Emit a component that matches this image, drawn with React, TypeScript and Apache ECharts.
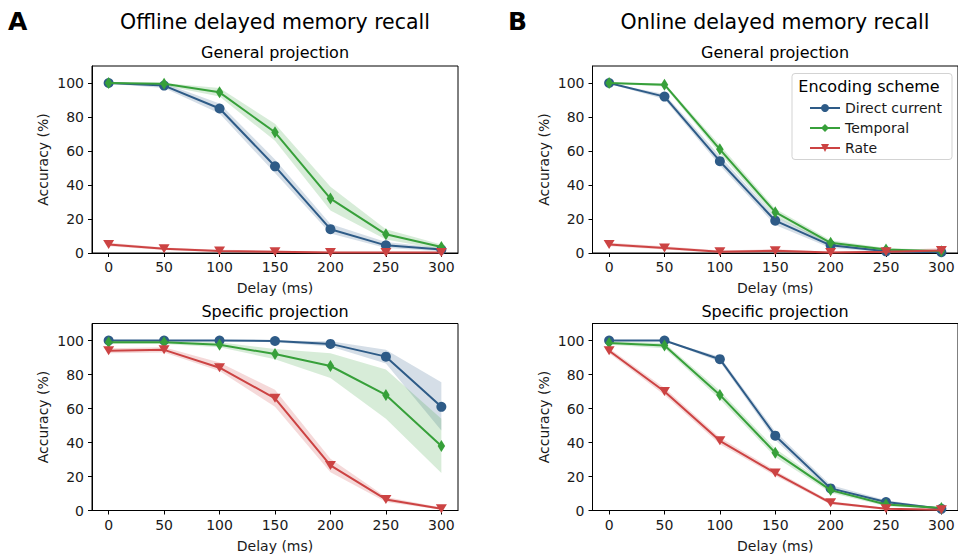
import React, { useEffect, useRef } from "react";
import * as echarts from "echarts";

const delays = [0, 50, 100, 150, 200, 250, 300];
const xTicks = [0, 50, 100, 150, 200, 250, 300];
const yTicks = [0, 20, 40, 60, 80, 100];
const schemes = ["Direct current", "Temporal", "Rate"];
const colors = ["#2e5b87", "#37a03a", "#cc4343"];

// Offline, general projection
const offGenDcMean = [100, 98.5, 85, 51, 14, 4.5, 2];
const offGenDcLo = [99.5, 97, 82, 47, 11.5, 3, 1];
const offGenDcHi = [100, 99.8, 88, 55, 17, 6.5, 3];
const offGenTMean = [100, 99.5, 94.5, 71, 32, 11, 3.5];
const offGenTLo = [99.5, 98.5, 92, 66, 25, 8, 2];
const offGenTHi = [100, 100, 97, 76, 39, 14, 5];
const offGenRMean = [5, 2.5, 1.2, 0.8, 0.3, 0.3, 0.3];
const offGenRLo = [4, 1.8, 0.6, 0.2, 0, 0, 0];
const offGenRHi = [6, 3.3, 1.9, 1.5, 0.7, 0.8, 0.7];

// Online, general projection
const onGenDcMean = [100, 92, 54, 19, 4.5, 1, 0.5];
const onGenDcLo = [99.5, 90.5, 51.5, 16.5, 3, 0.5, 0];
const onGenDcHi = [100, 93.5, 57, 21.5, 6, 1.8, 1.2];
const onGenTMean = [100, 99, 61, 24, 6, 2, 1];
const onGenTLo = [99.5, 98, 58.5, 21.5, 4.5, 1, 0.3];
const onGenTHi = [100, 99.8, 63.5, 26, 7.5, 3, 1.8];
const onGenRMean = [5, 3, 0.8, 1.3, 0.3, 0.8, 1.5];
const onGenRLo = [4, 2, 0.2, 0.5, 0, 0.2, 0.3];
const onGenRHi = [6, 4, 1.5, 2.2, 0.8, 1.5, 3];

// Offline, specific projection
const offSpecDcMean = [100, 100, 100, 99.7, 98, 90.5, 61];
const offSpecDcLo = [99.7, 99.7, 99.7, 99, 96.5, 86.5, 47];
const offSpecDcHi = [100, 100, 100, 100, 99.5, 94.5, 75.5];
const offSpecTMean = [99, 99, 97.5, 92, 85, 68, 38];
const offSpecTLo = [98, 98, 96, 89, 78, 54, 22];
const offSpecTHi = [99.8, 99.8, 99, 95, 92.5, 83, 54];
const offSpecRMean = [94, 94.5, 84, 66, 26.5, 6.5, 1];
const offSpecRLo = [92.5, 93, 82, 61, 22.5, 5, 0.5];
const offSpecRHi = [95.5, 96, 87, 71, 30.5, 8, 1.8];

// Online, specific projection
const onSpecDcMean = [100, 100, 89, 44, 13, 5, 1];
const onSpecDcLo = [99.7, 99.7, 87.5, 41.5, 11, 4, 0.5];
const onSpecDcHi = [100, 100, 90.5, 46.5, 15, 6, 1.5];
const onSpecTMean = [98.5, 97, 68, 34, 12, 3.5, 1.5];
const onSpecTLo = [97.5, 95.5, 65.5, 31.5, 10.5, 2.5, 1];
const onSpecTHi = [99.5, 98.5, 70.5, 36.5, 13.5, 4.5, 2];
const onSpecRMean = [94, 70, 41, 22, 4.5, 1, 0.5];
const onSpecRLo = [92.5, 68, 39, 20.5, 3.5, 0.5, 0.2];
const onSpecRHi = [95.5, 72, 43, 23.5, 5.5, 1.5, 0.8];

const panelData = [
  [
    [offGenDcMean, offGenDcLo, offGenDcHi],
    [offGenTMean, offGenTLo, offGenTHi],
    [offGenRMean, offGenRLo, offGenRHi],
  ],
  [
    [onGenDcMean, onGenDcLo, onGenDcHi],
    [onGenTMean, onGenTLo, onGenTHi],
    [onGenRMean, onGenRLo, onGenRHi],
  ],
  [
    [offSpecDcMean, offSpecDcLo, offSpecDcHi],
    [offSpecTMean, offSpecTLo, offSpecTHi],
    [offSpecRMean, offSpecRLo, offSpecRHi],
  ],
  [
    [onSpecDcMean, onSpecDcLo, onSpecDcHi],
    [onSpecTMean, onSpecTLo, onSpecTHi],
    [onSpecRMean, onSpecRLo, onSpecRHi],
  ],
];

const FONT = "DejaVu Sans";
const TXT = "#1a1a1a";

const grids = [
  { left: 92, top: 66, width: 366, height: 187 },
  { left: 592.5, top: 66, width: 366, height: 187 },
  { left: 92, top: 323.5, width: 366, height: 187 },
  { left: 592.5, top: 323.5, width: 366, height: 187 },
];

const symbols = [
  { symbol: "circle", symbolSize: 10 },
  { symbol: "diamond", symbolSize: [7.5, 12] },
  { symbol: "path://M0,0L10,0L5,8Z", symbolSize: [11, 9] },
];

function bandSeries(g: number, lo: number[], hi: number[], color: string) {
  return {
    type: "custom",
    xAxisIndex: g,
    yAxisIndex: g,
    silent: true,
    z: 1,
    data: delays.map((d, i) => [d, lo[i], hi[i]]),
    encode: { x: 0, y: [1, 2] },
    renderItem: (params: any, api: any) => {
      if (params.dataIndex !== 0) return null;
      const upper = delays.map((d, i) => api.coord([d, hi[i]]));
      const lower = delays.map((d, i) => api.coord([d, lo[i]])).reverse();
      return {
        type: "polygon",
        shape: { points: upper.concat(lower) },
        style: { fill: color, opacity: 0.2, stroke: "none" },
      };
    },
  };
}

export default function App() {
  const ref = useRef<HTMLDivElement>(null);
  useEffect(() => {
    if (!ref.current) return;
    const chart = echarts.init(ref.current, null, { renderer: "svg" });
    const series: any[] = [];
    panelData.forEach((panel, g) => {
      panel.forEach((s, k) => {
        series.push(bandSeries(g, s[1], s[2], colors[k]));
      });
      panel.forEach((s, k) => {
        series.push({
          type: "line",
          name: schemes[k],
          xAxisIndex: g,
          yAxisIndex: g,
          z: 3 + k,
          data: delays.map((d, i) => [d, s[0][i]]),
          symbol: symbols[k].symbol,
          symbolSize: symbols[k].symbolSize,
          showSymbol: true,
          lineStyle: { color: colors[k], width: 2 },
          itemStyle: { color: colors[k], borderWidth: 0 },
          emphasis: { disabled: true },
        });
      });
    });

    const xAxes = grids.map((_, g) => ({
      type: "value",
      gridIndex: g,
      min: -15,
      max: 315,
      name: "Delay (ms)",
      nameLocation: "middle",
      nameGap: 28,
      nameTextStyle: { fontFamily: FONT, fontSize: 14, color: TXT },
      axisLine: { show: true, onZero: false, lineStyle: { color: "#000", width: 1 } },
      axisTick: { show: true, length: 4, customValues: xTicks, lineStyle: { color: "#000" } },
      axisLabel: { customValues: xTicks, margin: 7, fontFamily: FONT, fontSize: 14, color: TXT },
      splitLine: { show: false },
    }));
    const yAxes = grids.map((_, g) => ({
      type: "value",
      gridIndex: g,
      min: 0,
      max: 110,
      name: "Accuracy (%)",
      nameLocation: "middle",
      nameGap: 42,
      nameTextStyle: { fontFamily: FONT, fontSize: 14, color: TXT },
      axisLine: { show: true, onZero: false, lineStyle: { color: "#000", width: 1 } },
      axisTick: { show: true, length: 4, customValues: yTicks, lineStyle: { color: "#000" } },
      axisLabel: { customValues: yTicks, margin: 8, fontFamily: FONT, fontSize: 14, color: TXT },
      splitLine: { show: false },
    }));

    const txt = (x: number, y: number, text: string, size: number, weight = "normal", align = "center") => ({
      type: "text",
      x,
      y,
      style: {
        text,
        fontFamily: FONT,
        fontSize: size,
        fontWeight: weight,
        fill: "#000",
        align,
        verticalAlign: "middle",
      },
    });

    chart.setOption({
      animation: false,
      backgroundColor: "#fff",
      grid: grids.map((g) => ({ ...g, show: true, borderColor: "#000", borderWidth: 1, backgroundColor: "transparent" })),
      xAxis: xAxes,
      yAxis: yAxes,
      legend: {
        data: schemes,
        orient: "vertical",
        left: 804,
        top: 96,
        itemWidth: 30,
        itemHeight: 10,
        itemGap: 6,
        textStyle: { fontFamily: FONT, fontSize: 14, color: TXT },
        selectedMode: false,
      },
      graphic: [
        {
          type: "rect",
          z: 3,
          shape: { x: 792, y: 73.5, width: 160, height: 86, r: 3 },
          style: { fill: "rgba(255,255,255,0.8)", stroke: "#d3d3d3", lineWidth: 1 },
        },
        { ...txt(869, 86, "Encoding scheme", 16), z: 5 },
        txt(8, 21, "A", 25, "bold", "left"),
        txt(508, 21, "B", 25, "bold", "left"),
        txt(275, 22, "Offline delayed memory recall", 20.5),
        txt(775, 22, "Online delayed memory recall", 20.5),
        txt(275, 52, "General projection", 16),
        txt(775, 52, "General projection", 16),
        txt(275, 311, "Specific projection", 16),
        txt(775, 311, "Specific projection", 16),
      ],
      series,
    });
    return () => chart.dispose();
  }, []);
  return (
    <div
      ref={ref}
      style={{ position: "fixed", left: 0, top: 0, width: 958, height: 555, background: "#fff" }}
    />
  );
}
